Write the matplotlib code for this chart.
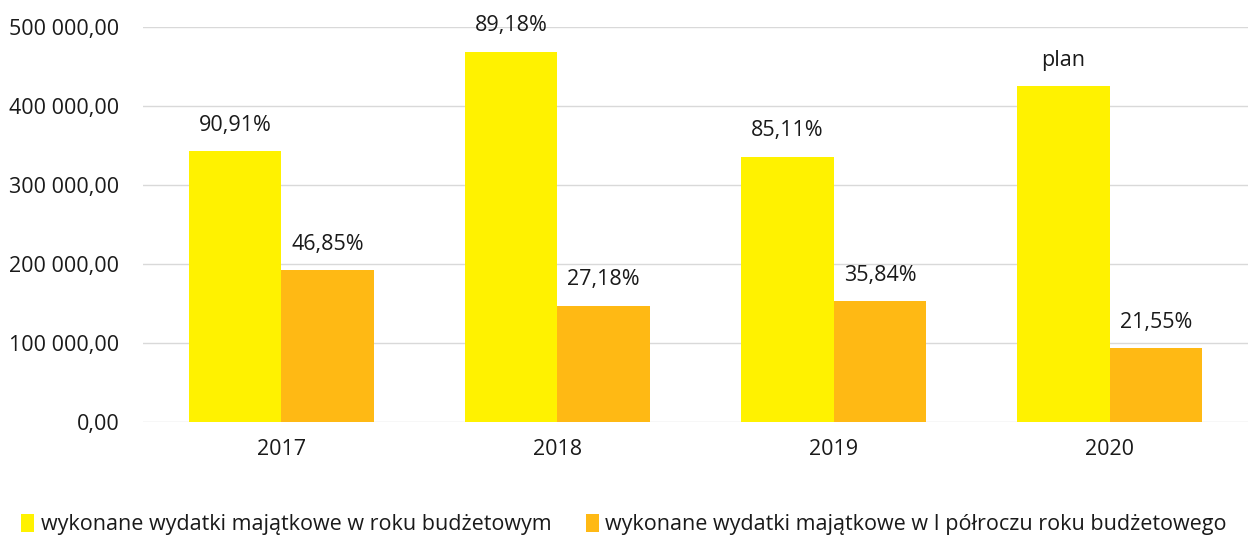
import matplotlib
matplotlib.use("Agg")
import matplotlib.pyplot as plt
import matplotlib.font_manager as fm
import numpy as np

years = ["2017", "2018", "2019", "2020"]
annual = [343000, 468700, 335800, 425300]
half_year = [192400, 147200, 153200, 93300]
annual_labels = ["90,91%", "89,18%", "85,11%", "plan"]
half_labels = ["46,85%", "27,18%", "35,84%", "21,55%"]
series_names = ["wykonane wydatki majątkowe w roku budżetowym",
                "wykonane wydatki majątkowe w I półroczu roku budżetowego"]
yticks = [0, 100000, 200000, 300000, 400000, 500000]

names = {f.name for f in fm.fontManager.ttflist}
main_font = "Open Sans" if "Open Sans" in names else "DejaVu Sans"
plt.rcParams['font.family'] = [main_font, 'DejaVu Sans']

c_year = "#FFF200"
c_half = "#FFB914"
txt = "#1a1a1a"

fig = plt.figure(figsize=(12.48, 5.36), dpi=100)
ax = fig.add_axes([0.1146, 0.2127, 0.8854, 0.7369])

x = np.arange(len(years))
w = 0.335
b1 = ax.bar(x - w / 2, annual, w, color=c_year, label=series_names[0], zorder=2)
b2 = ax.bar(x + w / 2, half_year, w, color=c_half, label=series_names[1], zorder=2)

for bars, labels in ((b1, annual_labels), (b2, half_labels)):
    for rect, lab in zip(bars, labels):
        ax.annotate(lab, (rect.get_x() + rect.get_width() / 2, rect.get_height()),
                    xytext=(0, 11), textcoords="offset points", ha="center", va="bottom",
                    fontsize=15.5, color=txt)

ax.set_ylim(0, 500000)
ax.set_xlim(-0.5, 3.5)
ax.set_yticks(yticks)
ax.set_yticklabels([f"{v:,.2f}".replace(",", " ").replace(".", ",") for v in yticks])
ax.set_xticks(x)
ax.set_xticklabels(years)
ax.tick_params(axis="both", length=0, labelsize=15.5, colors=txt)
ax.tick_params(axis="y", pad=17)
ax.tick_params(axis="x", pad=12)
ax.grid(axis="y", color="#d9d9d9", linewidth=1, zorder=0)
for s in ax.spines.values():
    s.set_visible(False)

leg = fig.legend(handles=[b1, b2], labels=series_names, loc="lower center",
                 bbox_to_anchor=(0.5, -0.035), ncol=2, frameon=False,
                 handlelength=0.6, handleheight=0.9, handletextpad=0.3,
                 columnspacing=1.6, prop={"size": 15.5})
for t in leg.get_texts():
    t.set_color(txt)

fig.savefig("out.png", dpi=100)
